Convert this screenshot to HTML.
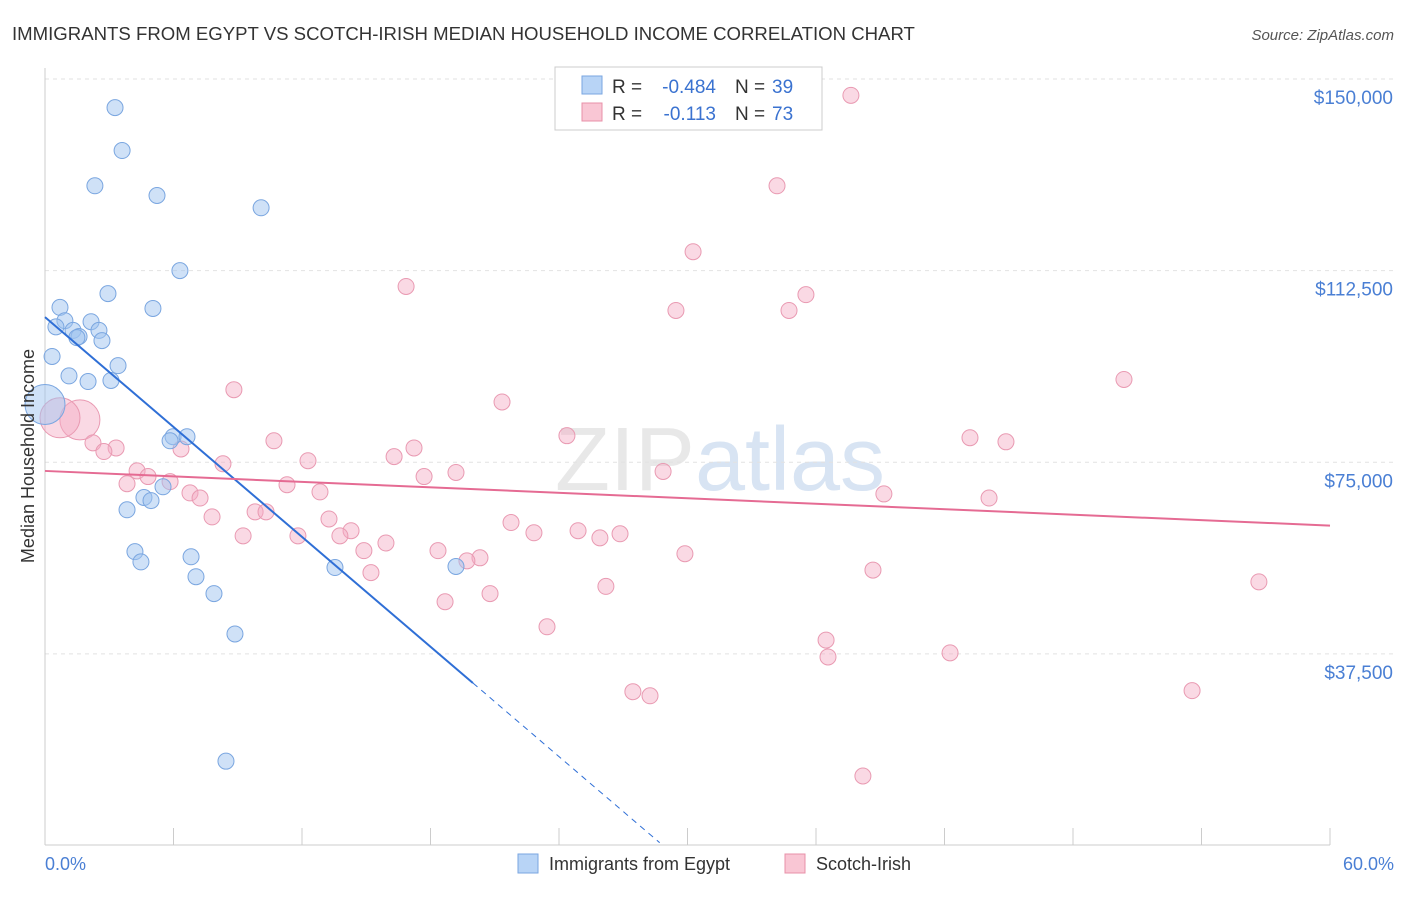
<!DOCTYPE html>
<html><head><meta charset="utf-8"><style>
body{margin:0;background:#fff;font-family:"Liberation Sans",sans-serif}
svg text{font-family:"Liberation Sans",sans-serif}
</style></head><body>
<svg id="c" width="1406" height="892">
<text x="12" y="40" font-size="18.6" fill="#333">IMMIGRANTS FROM EGYPT VS SCOTCH-IRISH MEDIAN HOUSEHOLD INCOME CORRELATION CHART</text>
<text x="1394" y="40" font-size="15" fill="#555" text-anchor="end" font-style="italic">Source: ZipAtlas.com</text>
<text x="720" y="490" font-size="90" fill="#e8e8e8" text-anchor="middle" font-family="Liberation Serif">ZIP<tspan fill="#d8e4f3" font-family="Liberation Sans">atlas</tspan></text>
<g id="grid"></g><g id="pts"></g><g id="lines"></g>
<text transform="translate(34,456) rotate(-90)" font-size="18" fill="#333" text-anchor="middle">Median Household Income</text>
<text x="45" y="870" font-size="18" fill="#4a7fd4">0.0%</text>
<text x="1394" y="870" font-size="18" fill="#4a7fd4" text-anchor="end">60.0%</text>
<g>
<rect x="555" y="67" width="267" height="63" fill="#fff" stroke="#ccc"/>
<rect x="582" y="76" width="20" height="18" fill="#b8d4f6" stroke="#7aa6e0"/>
<rect x="582" y="103" width="20" height="18" fill="#f9c6d4" stroke="#e890a8"/>
<text x="612" y="93" font-size="19" fill="#333">R =</text>
<text x="716" y="93" font-size="19" fill="#3a72d0" text-anchor="end">-0.484</text>
<text x="735" y="93" font-size="19" fill="#333">N =</text>
<text x="772" y="93" font-size="19" fill="#3a72d0">39</text>
<text x="612" y="120" font-size="19" fill="#333">R =</text>
<text x="716" y="120" font-size="19" fill="#3a72d0" text-anchor="end">-0.113</text>
<text x="735" y="120" font-size="19" fill="#333">N =</text>
<text x="772" y="120" font-size="19" fill="#3a72d0">73</text>
</g>
<g>
<rect x="518" y="854" width="20" height="19" fill="#b8d4f6" stroke="#7aa6e0"/>
<text x="549" y="870" font-size="18" fill="#333">Immigrants from Egypt</text>
<rect x="785" y="854" width="20" height="19" fill="#f9c6d4" stroke="#e890a8"/>
<text x="816" y="870" font-size="18" fill="#333">Scotch-Irish</text>
</g>
</svg>
<script>
const yTicks=[37500,75000,112500,150000];
const yTickLabels=["$37,500","$75,000","$112,500","$150,000"];
const xTicks=[0,6,12,18,24,30,36,42,48,54,60];
const egyptX=[3.27,3.60,2.33,5.23,10.09,6.30,2.94,0.70,5.04,0.93,2.15,0.51,1.31,2.52,1.59,1.49,2.66,0.33,3.41,1.12,2.01,3.08,0,5.98,6.63,5.84,5.51,4.62,4.95,3.83,4.20,4.48,6.82,7.05,7.89,13.54,19.19,8.87,8.45];
const egyptY=[144.4,136.0,129.1,127.2,124.8,112.5,108.0,105.3,105.1,102.7,102.5,101.5,100.8,100.8,99.6,99.4,98.8,95.7,93.9,91.9,90.8,91.0,86.3,80.0,80.0,79.2,70.2,68.1,67.5,65.7,57.5,55.5,56.5,52.6,49.3,54.4,54.6,41.4,16.5];
const egyptBig=[22];
const scotX=[37.63,34.18,30.26,16.86,35.53,29.46,34.74,50.38,8.82,21.34,24.37,43.19,44.87,10.69,17.23,1.63,0.70,2.24,3.32,2.75,6.35,16.30,12.28,8.31,4.30,4.81,19.19,28.86,17.70,3.83,5.84,11.30,12.84,6.77,7.24,39.17,44.08,9.81,10.32,7.80,21.76,13.26,14.29,22.83,24.89,9.25,11.81,13.77,25.91,26.85,15.92,14.89,18.35,29.88,20.31,19.70,15.22,38.66,56.68,26.19,20.78,18.68,23.44,36.47,36.56,42.26,27.45,28.25,53.56,38.19];
const scotY=[146.8,129.1,116.2,109.4,107.8,104.7,104.7,91.2,89.2,86.8,80.2,79.8,79.0,79.2,77.8,83.3,83.7,78.8,77.8,77.1,77.6,76.1,75.3,74.7,73.3,72.2,73.0,73.2,72.2,70.8,71.2,70.6,69.2,69.0,68.0,68.8,68.0,65.3,65.3,64.3,63.2,63.9,61.6,61.2,61.6,60.6,60.6,60.6,60.2,61.0,59.2,57.7,57.7,57.1,56.3,55.7,53.4,53.9,51.6,50.7,49.3,47.7,42.8,40.2,36.9,37.7,30.1,29.3,30.3,13.6];
const scotBig=[15,16];
const egyptTrend=[103.4,31.8,19.98,28.7];
const scotTrend=[73.3,62.6];
const X=v=>45+v/60*1285;
const Y=v=>845.5-v/150*766.5;
const NS="http://www.w3.org/2000/svg";
function mk(p,t,a){const e=document.createElementNS(NS,t);for(const k in a)e.setAttribute(k,a[k]);p.appendChild(e);return e;}
const grid=document.getElementById('grid');
yTicks.forEach((t,i)=>{
 const l=mk(grid,'line',{x1:45,x2:1394,y1:Y(t/1000),y2:Y(t/1000),stroke:'#e2e2e2','stroke-dasharray':'4,4'});
 
 
 const tx=mk(grid,'text',{x:1393,y:Y(t/1000)+25,'font-size':19,fill:'#4a7fd4','text-anchor':'end'});
 tx.textContent=yTickLabels[i];
 
 
});
const ax=mk(grid,'line',{x1:45,x2:1330,y1:845,y2:845,stroke:'#ccc'});


const ay=mk(grid,'line',{x1:45,x2:45,y1:68,y2:845,stroke:'#ccc'});


xTicks.forEach(t=>{
 const l=mk(grid,'line',{x1:X(t),x2:X(t),y1:828,y2:845,stroke:'#ccc'});
 
 
});
const pts=document.getElementById('pts');
scotX.forEach((x,i)=>{
 const c=mk(pts,'circle',{cx:X(x),cy:Y(scotY[i]),r:scotBig.includes(i)?20:8,fill:'rgba(245,170,195,0.45)',stroke:'#e99ab2','stroke-width':1});
 
 
});
egyptX.forEach((x,i)=>{
 const c=mk(pts,'circle',{cx:X(x),cy:Y(egyptY[i]),r:egyptBig.includes(i)?20:8,fill:'rgba(160,195,240,0.5)',stroke:'#7aa6e0','stroke-width':1});
 
 
});
const lines=document.getElementById('lines');
const slope=(egyptTrend[1]-egyptTrend[0])/egyptTrend[2];
const b1=mk(lines,'line',{x1:X(0),y1:Y(egyptTrend[0]),x2:X(egyptTrend[2]),y2:Y(egyptTrend[1]),stroke:'#2f6fd6','stroke-width':2});


const b2=mk(lines,'line',{x1:X(egyptTrend[2]),y1:Y(egyptTrend[1]),x2:X(egyptTrend[3]),y2:Y(egyptTrend[0]+slope*egyptTrend[3]),stroke:'#2f6fd6','stroke-width':1,'stroke-dasharray':'6,5'});


const p1=mk(lines,'line',{x1:X(0),y1:Y(scotTrend[0]),x2:X(60),y2:Y(scotTrend[1]),stroke:'#e56b93','stroke-width':2});


</script>
</body></html>
